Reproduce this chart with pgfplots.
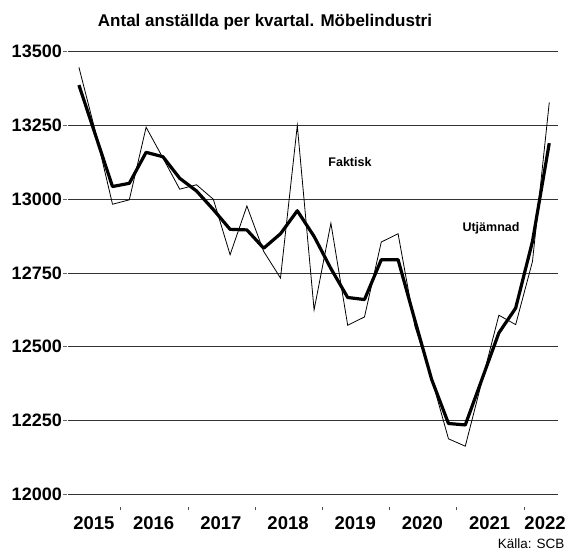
\documentclass[border=0pt]{standalone}
\usepackage{pgfplots}
\pgfplotsset{compat=1.18}
\usepackage{fontspec}
\setmainfont{Liberation Sans}
\begin{document}
\begin{tikzpicture}
\path[use as bounding box] (0,0) rectangle (574pt,-553pt);
\begin{axis}[
  at={(68pt,-494.3pt)}, anchor=south west,
  scale only axis, width=490pt, height=442.6pt,
  xmin=-0.65, xmax=28.52, ymin=12000, ymax=13500,
  axis x line*=bottom, axis y line*=left,
  axis line style={draw opacity=0},
  ytick={12000,12250,12500,12750,13000,13250,13500},
  scaled y ticks=false,
  yticklabel={\pgfmathprintnumber[fixed,precision=0,1000 sep={}]{\tick}},
  ymajorgrids, grid style={black!80, line width=0.8pt},
  /pgf/number format/assume math mode=true,
  tick align=outside,
  ytick style={draw=black!60, line width=0.7pt, xshift=-1pt},
  major tick length=4pt,
  yticklabel style={font=\fontsize{18}{18}\selectfont\bfseries, inner sep=0pt, anchor=east, xshift=-2pt},
  xtick={0.89,4.45,8.45,12.45,16.45,20.45,24.45,27.75},
  xticklabels={2015,2016,2017,2018,2019,2020,2021,2022},
  xtick style={draw=none},
  xticklabel style={font=\fontsize{18.5}{18.5}\selectfont\bfseries, inner sep=0pt, anchor=north, yshift=-18pt},
  clip=false,
]
\addplot[black, line width=0.8pt] coordinates {
(0,13447) (1,13225) (2,12983) (3,12998) (4,13244) (5,13140) (6,13034) (7,13049)
(8,13000) (9,12812) (10,12977) (11,12823) (12,12733) (13,13250) (14,12625) (15,12919)
(16,12573) (17,12601) (18,12855) (19,12883) (20,12570) (21,12392) (22,12188) (23,12163)
(24,12385) (25,12607) (26,12575) (27,12789) (28,13328)};
\addplot[black, line width=3.2pt, line join=round] coordinates {
(0,13387) (1,13215) (2,13043) (3,13054) (4,13159) (5,13144) (6,13071) (7,13028)
(8,12965) (9,12898) (10,12896) (11,12834) (12,12883) (13,12961) (14,12874) (15,12765)
(16,12667) (17,12660) (18,12795) (19,12795) (20,12590) (21,12389) (22,12240) (23,12235)
(24,12391) (25,12547) (26,12631) (27,12857) (28,13190)};
\end{axis}
% year separator marks below the axis
\begin{axis}[
  at={(68pt,-510pt)}, anchor=south west,
  scale only axis, width=490pt, height=3.4pt,
  xmin=-0.65, xmax=28.52, ymin=0, ymax=1,
  axis line style={draw=none},
  xtick={2.5,6.5,10.5,14.5,18.5,22.5,26.5},
  xticklabels={}, ytick=\empty,
  major tick length=0pt,
  xmajorgrids, grid style={black!70, line width=0.9pt},
]
\end{axis}
\node[font=\fontsize{17}{17}\selectfont\bfseries] at (265pt,-22pt) {Antal anställda per kvartal. Möbelindustri};
\node[font=\fontsize{12.5}{12.5}\selectfont\bfseries] at (350pt,-162pt) {Faktisk};
\node[font=\fontsize{12.5}{12.5}\selectfont\bfseries] at (491pt,-228pt) {Utjämnad};
\node[font=\fontsize{13.5}{13.5}\selectfont, anchor=east] at (568pt,-544pt) {Källa: SCB};
\end{tikzpicture}
\end{document}
